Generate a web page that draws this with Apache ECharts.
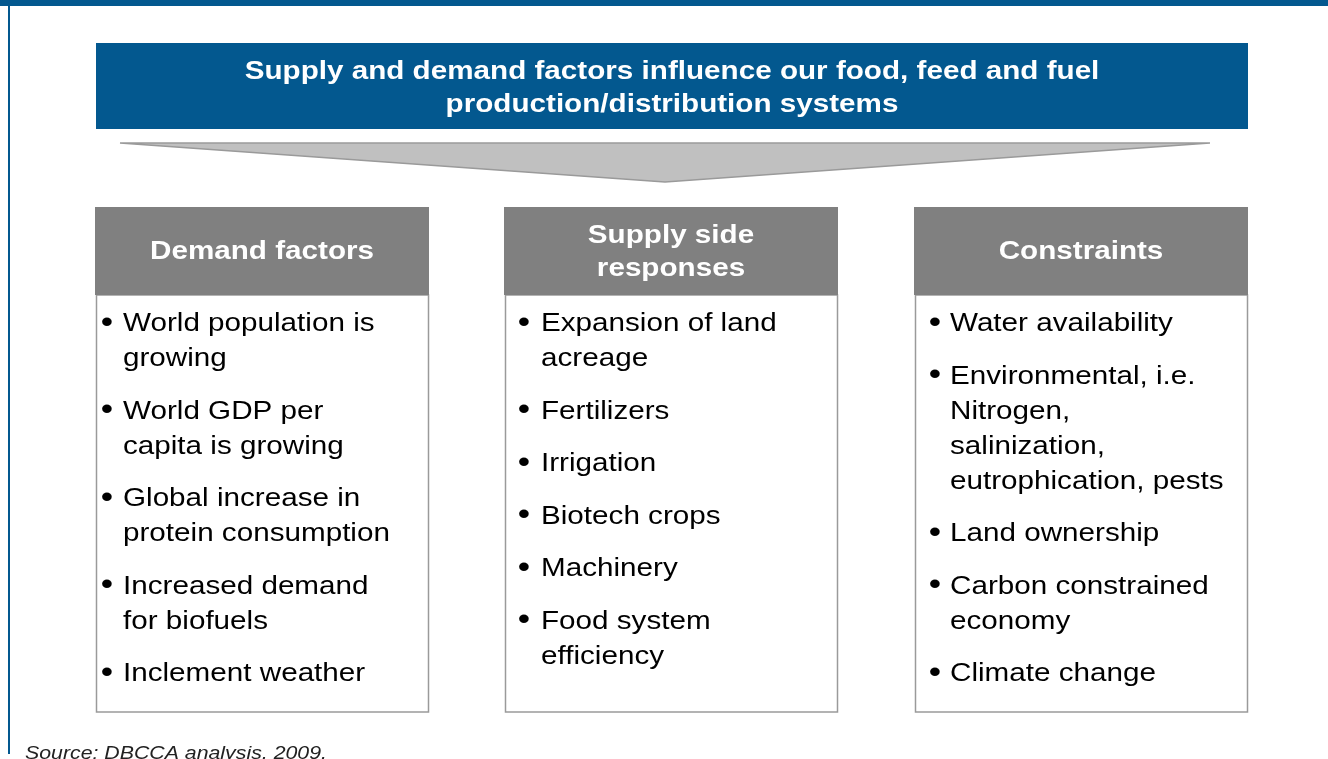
<!DOCTYPE html>
<html>
<head>
<meta charset="utf-8">
<title>Supply and demand factors</title>
<script src="https://cdn.jsdelivr.net/npm/echarts@6/dist/echarts.min.js"></script>
<style>
  html, body { margin: 0; padding: 0; background: #fff; }
  #chart { width: 1328px; height: 759px; }
</style>
</head>
<body>
<div id="chart"></div>
<script>
// 文本数据
const titleLines = ['Supply and demand factors influence our food, feed and fuel', 'production/distribution systems']
const headers = [
  ['Demand factors'],
  ['Supply side', 'responses'],
  ['Constraints']
]
const demandItems = [
  ['World population is', 'growing'],
  ['World GDP per', 'capita is growing'],
  ['Global increase in', 'protein consumption'],
  ['Increased demand', 'for biofuels'],
  ['Inclement weather']
]
const supplyItems = [
  ['Expansion of land', 'acreage'],
  ['Fertilizers'],
  ['Irrigation'],
  ['Biotech crops'],
  ['Machinery'],
  ['Food system', 'efficiency']
]
const constraintItems = [
  ['Water availability'],
  ['Environmental, i.e.', 'Nitrogen,', 'salinization,', 'eutrophication, pests'],
  ['Land ownership'],
  ['Carbon constrained', 'economy'],
  ['Climate change']
]
const sourceText = 'Source: DBCCA analysis, 2009.'

const columns = [demandItems, supplyItems, constraintItems]

// 布局
const BLUE = '#03588f'
const GREY = '#808080'
const FAMILY = 'Liberation Sans'
const STRETCH = 1.14 // 原图文字横向被拉宽
const boxes = [
  { x: 96, bullet: 11, text: 27 },
  { x: 505, bullet: 19, text: 36 },
  { x: 915, bullet: 20, text: 35 }
]
const boxW = 332
const headTop = 207, headH = 88, boxBottom = 712
const firstLine = 324, lineH = 35, itemStep = 52.5

const txt = (x, y, text, opts) => ({
  type: 'text', x: x, y: y, scaleX: STRETCH,
  style: Object.assign({
    text: text, fill: '#000', fontFamily: FAMILY, fontSize: 26, fontWeight: 'normal',
    textAlign: 'left', textVerticalAlign: 'middle'
  }, opts || {})
})

const elements = []

// 顶部蓝条和左边线
elements.push({ type: 'rect', shape: { x: 0, y: 0, width: 1328, height: 6 }, style: { fill: BLUE } })
elements.push({ type: 'rect', shape: { x: 8, y: 0, width: 2, height: 754 }, style: { fill: BLUE } })

// 标题横幅
elements.push({ type: 'rect', shape: { x: 96, y: 43, width: 1152, height: 86 }, style: { fill: BLUE } })
titleLines.forEach((t, i) => {
  elements.push(txt(672, 71.5 + i * 33, t, { fill: '#fff', fontWeight: 'bold', textAlign: 'center' }))
})

// 漏斗三角
elements.push({
  type: 'polygon',
  shape: { points: [[120, 143], [1210, 143], [665, 182]] },
  style: { fill: '#c0c0c0', stroke: '#9a9a9a', lineWidth: 1.5 }
})

// 三个栏目
boxes.forEach((b, c) => {
  elements.push({
    type: 'rect', shape: { x: b.x + 0.5, y: headTop + headH, width: boxW, height: boxBottom - headTop - headH },
    style: { fill: '#fff', stroke: '#9a9a9a', lineWidth: 1.5 }
  })
  elements.push({ type: 'rect', shape: { x: b.x - 1, y: headTop, width: boxW + 2, height: headH }, style: { fill: GREY } })
  const hl = headers[c]
  const hy = headTop + headH / 2 + 1 - (hl.length - 1) * 16.5
  hl.forEach((t, i) => {
    elements.push(txt(b.x + boxW / 2, hy + i * 33, t, { fill: '#fff', fontWeight: 'bold', textAlign: 'center' }))
  })
  let y = firstLine
  columns[c].forEach(item => {
    elements.push(txt(b.x + b.bullet, y - 1, '•', { textAlign: 'center', fontSize: 31 }))
    item.forEach((t, i) => {
      elements.push(txt(b.x + b.text, y + i * lineH, t))
    })
    y += (item.length - 1) * lineH + itemStep
  })
})

// 来源
elements.push(txt(25, 754, sourceText, { fill: '#222', fontSize: 18.7, fontStyle: 'italic' }))

const chart = echarts.init(document.getElementById('chart'))
chart.setOption({
  animation: false,
  graphic: { elements: elements }
})
window.addEventListener('resize', () => chart.resize())
</script>
</body>
</html>
